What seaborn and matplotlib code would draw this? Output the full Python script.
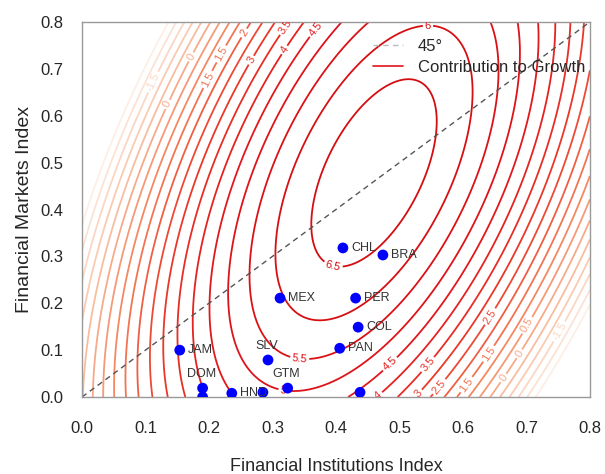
import numpy as np
import pandas as pd
import matplotlib
matplotlib.use('Agg')
import matplotlib.pyplot as plt
from matplotlib.colors import LinearSegmentedColormap
import seaborn as sns

# Country positions (Financial Institutions Index, Financial Markets Index)
countries = ['JAM', 'DOM', '', 'HND', '', 'SLV', 'GTM', 'PAN', '', 'MEX', 'CHL', 'BRA', 'PER', 'COL']
fi_index = [0.154, 0.190, 0.190, 0.236, 0.285, 0.293, 0.324, 0.406, 0.438, 0.312, 0.411, 0.474, 0.431, 0.435]
fm_index = [0.100, 0.019, 0.000, 0.008, 0.010, 0.079, 0.019, 0.104, 0.010, 0.211, 0.318, 0.303, 0.211, 0.149]
# label placement: 'r' right of point, 'a' above point
label_pos = ['r', 'a', 'r', 'r', 'r', 'a', 'a', 'r', 'r', 'r', 'r', 'r', 'r', 'r']

# Quadratic growth surface (peak value, peak location, curvature terms)
g_peak = 6.84
fi_peak, fm_peak = 0.460, 0.478
c_fi, c_fm, c_cross = 50.0, 12.2, -13.6
levels = np.arange(-2.5, 7.0, 0.5)

# where the contour labels sit
label_spots = [(0.115, 0.67), (0.137, 0.623), (0.167, 0.729), (0.214, 0.736), (0.20, 0.676),
               (0.261, 0.772), (0.261, 0.723), (0.317, 0.793), (0.315, 0.744), (0.364, 0.789),
               (0.545, 0.789), (0.395, 0.277), (0.343, 0.083), (0.317, 0.012), (0.482, 0.075),
               (0.465, 0.006), (0.54, 0.075), (0.528, 0.01), (0.639, 0.175), (0.569, 0.015),
               (0.639, 0.094), (0.606, 0.026), (0.70, 0.154), (0.687, 0.094), (0.669, 0.036),
               (0.748, 0.143)]

df = pd.DataFrame({'country': countries, 'fi': fi_index, 'fm': fm_index, 'pos': label_pos})

sns.set_style('white')
plt.rcParams['font.family'] = ['Liberation Sans', 'DejaVu Sans']

fig = plt.figure(figsize=(6.05, 4.74), dpi=100)
ax = fig.add_axes([0.1355, 0.1624, 0.8395, 0.7912])

gx = np.linspace(0, 0.8, 400)
gy = np.linspace(0, 0.8, 400)
X, Y = np.meshgrid(gx, gy)
dx, dy = X - fi_peak, Y - fm_peak
Z = g_peak - (c_fi * dx**2 + c_fm * dy**2 + 2 * c_cross * dx * dy)

cmap = LinearSegmentedColormap.from_list('growth', ['#fdeee6', '#f9c2a6', '#f3845e', '#ea3a2a', '#e0141b', '#d40d10'])
cs = ax.contour(X, Y, Z, levels=levels, cmap=cmap, linewidths=1.3, zorder=1)
ax.clabel(cs, inline=True, fontsize=8, fmt='%g', inline_spacing=2, manual=label_spots)

# 45 degree line
line_df = pd.DataFrame({'x': [0, 0.8], 'y': [0, 0.8]})
sns.lineplot(data=line_df, x='x', y='y', ax=ax, color='#555555', linestyle=(0, (4, 3)),
             linewidth=1.0, zorder=2)

sns.scatterplot(data=df, x='fi', y='fm', ax=ax, color='#0000ff', s=60, edgecolor='none',
                zorder=3, legend=False)
for _, r in df.iterrows():
    if not r['country']:
        continue
    if r['pos'] == 'a':
        ax.annotate(r['country'], (r['fi'], r['fm']), xytext=(-1, 6), textcoords='offset points',
                    fontsize=9, ha='center', va='bottom', color='#333333', zorder=4)
    else:
        ax.annotate(r['country'], (r['fi'], r['fm']), xytext=(6, 0), textcoords='offset points',
                    fontsize=9, ha='left', va='center', color='#333333', zorder=4)

ax.set_xlim(0, 0.8)
ax.set_ylim(0, 0.8)
ticks = np.arange(0, 0.81, 0.1)
ax.set_xticks(ticks)
ax.set_yticks(ticks)
ax.set_xticklabels([f'{t:.1f}' for t in ticks], fontsize=12)
ax.set_yticklabels([f'{t:.1f}' for t in ticks], fontsize=12)
ax.tick_params(direction='in', length=3, color='#888888')
ax.tick_params(axis='x', pad=17)
ax.tick_params(axis='y', pad=13.5)
for sp in ax.spines.values():
    sp.set_color('#999999')
    sp.set_linewidth(1.0)

ax.set_xlabel('Financial Institutions Index', fontsize=13, labelpad=16)
ax.set_ylabel('Financial Markets Index', fontsize=14, labelpad=5)

h1 = plt.Line2D([], [], color='#bbbbbb', linestyle=(0, (4, 3)), linewidth=1.0)
h2 = plt.Line2D([], [], color='#e0141b', linewidth=1.2)
ax.legend([h1, h2], ['45°', 'Contribution to Growth'], loc='upper left',
          bbox_to_anchor=(0.573, 0.955), borderaxespad=0, borderpad=0, frameon=False,
          fontsize=12, handlelength=1.8, handletextpad=0.9, labelspacing=0.38)

fig.savefig('out.png', dpi=100)
